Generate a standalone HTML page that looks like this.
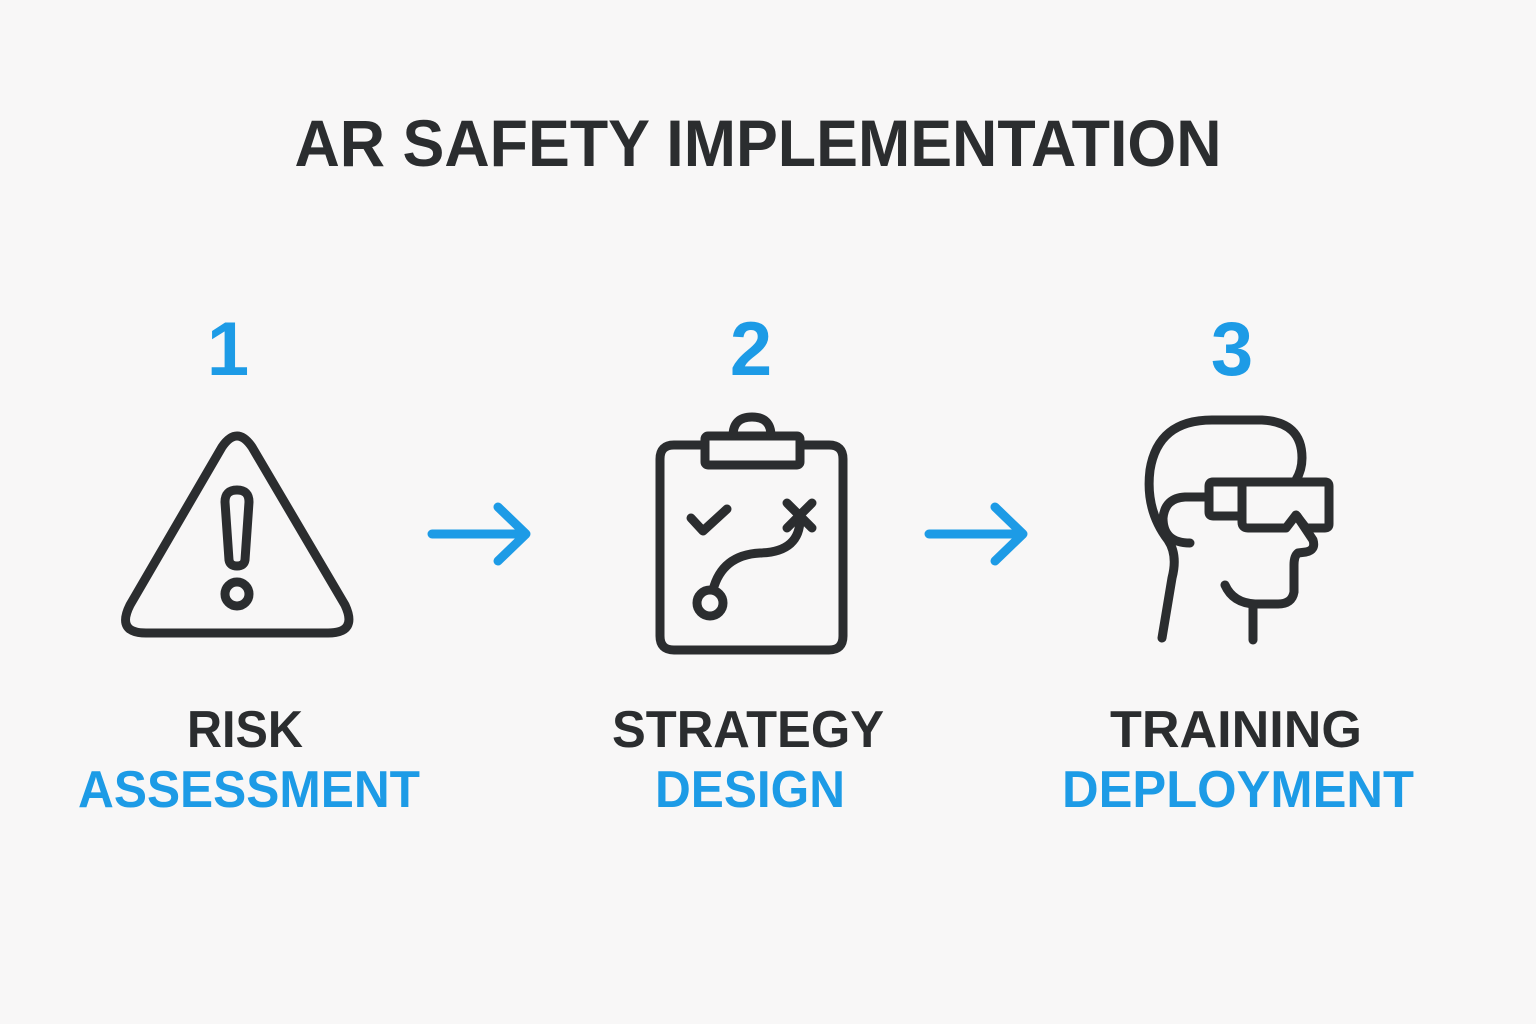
<!DOCTYPE html>
<html><head><meta charset="utf-8"><style>
html,body{margin:0;padding:0;background:#f8f7f7;}
svg{display:block}
text{font-family:"Liberation Sans",sans-serif;font-weight:bold}
</style></head><body>
<svg width="1536" height="1024" viewBox="0 0 1536 1024" xmlns="http://www.w3.org/2000/svg">
<rect width="1536" height="1024" fill="#f8f7f7"/>
<text x="758" y="166" font-size="66" fill="#2b2d2f" text-anchor="middle" textLength="927" lengthAdjust="spacingAndGlyphs">AR SAFETY IMPLEMENTATION</text>
<g fill="#1d9be6" font-size="76" text-anchor="middle">
<text x="228" y="375">1</text><text x="751" y="375">2</text><text x="1232" y="375">3</text>
</g>
<g fill="none" stroke="#2b2d2f" stroke-width="9" stroke-linecap="round" stroke-linejoin="round">
<path d="M222,447 Q237,425 252,447 L345,605 Q358,633 328,633 L146,633 Q116,633 130,605 Z"/>
<path d="M225,502 Q225,490 237,490 Q249,490 249,502 L245,560 Q244,566 237,566 Q230,566 229,560 Z"/>
<circle cx="237" cy="594" r="12"/>
<path d="M432,534 L526,534 M498,507 L526,534 L498,561" stroke="#1d9be6"/>
<path d="M929,534 L1023,534 M995,507 L1023,534 L995,561" stroke="#1d9be6"/>
<path d="M705,445 L674,445 Q660,445 660,459 L660,636 Q660,650 674,650 L829,650 Q843,650 843,636 L843,459 Q843,445 829,445 L800,445"/>
<rect x="705" y="436" width="95" height="29" rx="3"/>
<path d="M733,436 Q733,417 752,417 Q771,417 771,436"/>
<path d="M691,518 L703,531 L727,509"/>
<path d="M787,503 L812,528 M812,503 L787,528"/>
<path d="M800,517 Q801,552 760,553 Q722,555 713,590"/>
<circle cx="710" cy="603" r="13"/>
<path d="M1162,638 L1172,578 Q1178,555 1168,540 Q1145,510 1150,470 Q1158,420 1212,420 L1262,420 Q1302,422 1302,458 Q1302,470 1296,480"/>
<path d="M1208,497 L1185,497 Q1165,498 1163,518 Q1163,543 1190,543"/>
<path d="M1213,482 L1325,482 Q1329,482 1329,486 L1329,524 Q1329,528 1325,528 L1306,528 L1296,515 L1286,528 L1248,528 Q1242,528 1242,522 L1242,516 L1213,516 Q1209,516 1209,512 L1209,486 Q1209,482 1213,482 Z M1242,484 L1242,516"/>
<path d="M1297,516 L1313,540 Q1316,550 1306,552 L1298,553 Q1294,556 1294,565 L1294,592 Q1292,604 1278,604 L1255,604 Q1233,603 1225,585"/>
<path d="M1253,604 L1253,640"/>
</g>
<g font-size="52" text-anchor="middle">
<text x="245" y="747" fill="#2b2d2f" textLength="116" lengthAdjust="spacingAndGlyphs">RISK</text>
<text x="249" y="807" fill="#1d9be6" textLength="342" lengthAdjust="spacingAndGlyphs">ASSESSMENT</text>
<text x="748" y="747" fill="#2b2d2f" textLength="272" lengthAdjust="spacingAndGlyphs">STRATEGY</text>
<text x="750" y="807" fill="#1d9be6" textLength="190" lengthAdjust="spacingAndGlyphs">DESIGN</text>
<text x="1236" y="747" fill="#2b2d2f" textLength="252" lengthAdjust="spacingAndGlyphs">TRAINING</text>
<text x="1238" y="807" fill="#1d9be6" textLength="352" lengthAdjust="spacingAndGlyphs">DEPLOYMENT</text>
</g>
</svg>
</body></html>
